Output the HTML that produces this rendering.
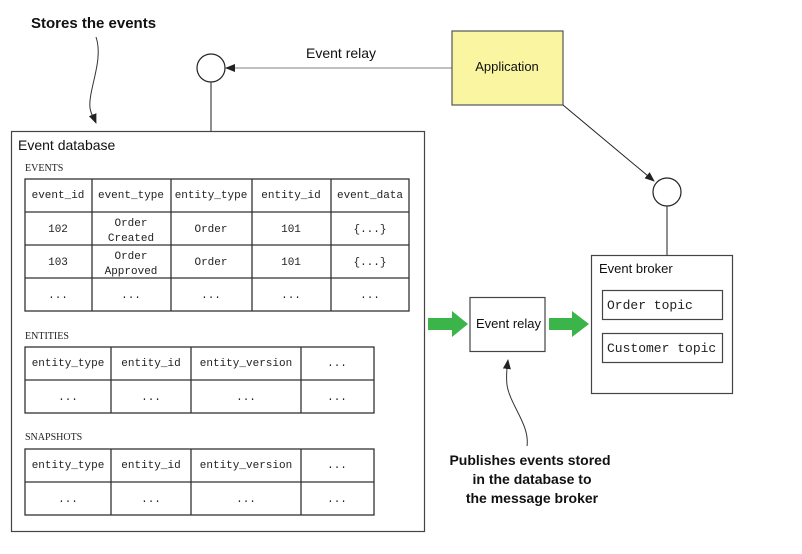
<!DOCTYPE html>
<html><head><style>
body{margin:0;background:#fff;}
svg text{font-family:"Liberation Sans",sans-serif;}
svg .m, svg .m text{font-family:"Liberation Mono",monospace;font-size:11px;fill:#222;}
svg .s{font-family:"Liberation Serif",serif;font-size:10px;fill:#222;}
</style></head><body>
<svg width="802" height="549" viewBox="0 0 802 549" xmlns="http://www.w3.org/2000/svg">
<defs><marker id="ah" markerWidth="10" markerHeight="8" refX="9" refY="4" orient="auto" markerUnits="userSpaceOnUse"><path d="M0,0 L10,4 L0,8 Z" fill="#222"/></marker></defs>
<text x="31" y="28" font-size="15" font-weight="bold" fill="#111">Stores the events</text>
<path d="M96,37 C104,60 88,90 90,108 C91,115 94,118 96,123" fill="none" stroke="#333" stroke-width="1" marker-end="url(#ah)"/>
<text x="306" y="58" font-size="14" fill="#111">Event relay</text>
<line x1="452" y1="68" x2="226" y2="68" stroke="#999" stroke-width="1.3" marker-end="url(#ah)"/>
<circle cx="211" cy="68" r="14" fill="#fff" stroke="#222" stroke-width="1.2"/>
<line x1="211" y1="82" x2="211" y2="131" stroke="#444" stroke-width="1.2"/>
<rect x="452" y="31" width="111" height="74" fill="#faf5a0" stroke="#555" stroke-width="1.2"/>
<text x="507" y="71" font-size="13" text-anchor="middle" fill="#111">Application</text>
<line x1="563" y1="105" x2="654" y2="181" stroke="#222" stroke-width="1" marker-end="url(#ah)"/>
<circle cx="667" cy="192" r="14" fill="#fff" stroke="#222" stroke-width="1.2"/>
<line x1="667" y1="206" x2="667" y2="255" stroke="#444" stroke-width="1.2"/>
<rect x="11.5" y="131.5" width="413" height="400" fill="#fff" stroke="#444" stroke-width="1.2"/>
<text x="18" y="150" font-size="14" fill="#111">Event database</text>
<text x="25" y="171" class="s">EVENTS</text>
<g stroke="#333" stroke-width="1.3" fill="none">
<rect x="25" y="179" width="384" height="132"/>
<line x1="25" y1="212" x2="409" y2="212"/><line x1="25" y1="245" x2="409" y2="245"/><line x1="25" y1="278" x2="409" y2="278"/>
<line x1="92" y1="179" x2="92" y2="311"/><line x1="171" y1="179" x2="171" y2="311"/><line x1="252" y1="179" x2="252" y2="311"/><line x1="331" y1="179" x2="331" y2="311"/>
<rect x="25" y="347" width="349" height="66"/><line x1="25" y1="380" x2="374" y2="380"/>
<line x1="111" y1="347" x2="111" y2="413"/><line x1="191" y1="347" x2="191" y2="413"/><line x1="301" y1="347" x2="301" y2="413"/>
<rect x="25" y="449" width="349" height="66"/><line x1="25" y1="482" x2="374" y2="482"/>
<line x1="111" y1="449" x2="111" y2="515"/><line x1="191" y1="449" x2="191" y2="515"/><line x1="301" y1="449" x2="301" y2="515"/>
</g>
<g class="m" text-anchor="middle">
<text x="58" y="198">event_id</text><text x="131" y="198">event_type</text><text x="211" y="198">entity_type</text><text x="291" y="198">entity_id</text><text x="370" y="198">event_data</text>
<text x="58" y="232">102</text><text x="131" y="226">Order</text><text x="131" y="241">Created</text><text x="211" y="232">Order</text><text x="291" y="232">101</text><text x="370" y="232">{...}</text>
<text x="58" y="265">103</text><text x="131" y="259">Order</text><text x="131" y="274">Approved</text><text x="211" y="265">Order</text><text x="291" y="265">101</text><text x="370" y="265">{...}</text>
<text x="58" y="298">...</text><text x="131" y="298">...</text><text x="211" y="298">...</text><text x="291" y="298">...</text><text x="370" y="298">...</text>
<text x="68" y="366">entity_type</text><text x="151" y="366">entity_id</text><text x="246" y="366">entity_version</text><text x="337" y="366">...</text>
<text x="68" y="400">...</text><text x="151" y="400">...</text><text x="246" y="400">...</text><text x="337" y="400">...</text>
<text x="68" y="468">entity_type</text><text x="151" y="468">entity_id</text><text x="246" y="468">entity_version</text><text x="337" y="468">...</text>
<text x="68" y="502">...</text><text x="151" y="502">...</text><text x="246" y="502">...</text><text x="337" y="502">...</text>
</g>
<text x="25" y="339" class="s">ENTITIES</text>
<text x="25" y="440" class="s">SNAPSHOTS</text>
<path d="M428,318 H452 V311 L468,324 L452,337 V330 H428 Z" fill="#3bb54a"/>
<path d="M549,318 H572 V311 L589,324 L572,337 V330 H549 Z" fill="#3bb54a"/>
<rect x="470" y="297.5" width="75" height="54" fill="#fff" stroke="#444" stroke-width="1.2"/>
<text x="476" y="328" font-size="13" fill="#111">Event relay</text>
<rect x="591.5" y="255.5" width="141" height="138" fill="#fff" stroke="#444" stroke-width="1.2"/>
<text x="599" y="273" font-size="13" fill="#111">Event broker</text>
<rect x="602.5" y="290.5" width="120" height="29" fill="#fff" stroke="#444" stroke-width="1.2"/>
<text x="607" y="309" class="m" style="font-size:13px">Order topic</text>
<rect x="602.5" y="333.5" width="120" height="29" fill="#fff" stroke="#444" stroke-width="1.2"/>
<text x="607" y="352" class="m" style="font-size:13px">Customer topic</text>
<path d="M527,446 C530,425 510,405 507,385 C506,375 507,368 508,360" fill="none" stroke="#333" stroke-width="1" marker-end="url(#ah)"/>
<g font-size="14" font-weight="bold" fill="#111" text-anchor="middle">
<text x="530" y="465">Publishes events stored</text>
<text x="532" y="484">in the database to</text>
<text x="532" y="503">the message broker</text>
</g>
</svg>
</body></html>
